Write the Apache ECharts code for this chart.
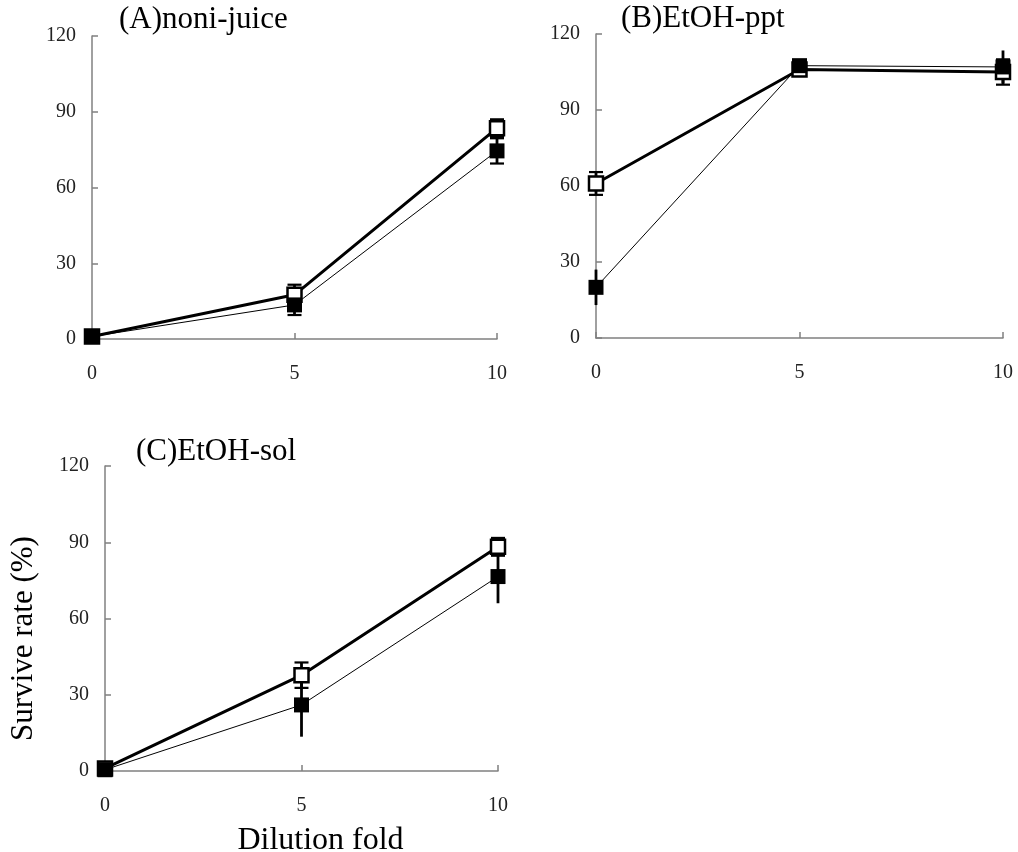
<!DOCTYPE html>
<html><head><meta charset="utf-8">
<script src="https://cdn.jsdelivr.net/npm/echarts@6/dist/echarts.min.js"></script>
<style>html,body{margin:0;padding:0;background:#fff}#c{width:1018px;height:852px}</style>
</head><body><div id="c"></div>
<script>
const dilution = [0, 5, 10];
const yTicks = [0, 30, 60, 90, 120];
const panelTitles = ['(A)noni-juice', '(B)EtOH-ppt', '(C)EtOH-sol'];
// open squares (thick line)
const aOpen = [1, 17.5, 83.5];
const aOpenErr = [0.5, 4, 3.5];
const bOpen = [61, 106, 105];
const bOpenErr = [4.5, 2, 5];
const cOpen = [1, 37.7, 88.2];
const cOpenErr = [0.5, 5, 3.5];
// filled squares (thin line)
const aFilled = [1, 13.5, 74.5];
const aFilledErr = [0.5, 4, 5];
const bFilled = [20, 107.5, 107];
const bFilledErr = [7, 2.5, 6.5];
const cFilled = [0.5, 26, 76.5];
const cFilledErr = [0.5, 12.5, 10.5];

const FONT = 'Liberation Serif';
const AX = '#808080';

const openSets = [[aOpen, aOpenErr], [bOpen, bOpenErr], [cOpen, cOpenErr]];
const filledSets = [[aFilled, aFilledErr, true], [bFilled, bFilledErr, false], [cFilled, cFilledErr, false]];

const grids = [
  {left: 92, top: 36, width: 405, height: 303},
  {left: 596, top: 34, width: 407, height: 304},
  {left: 105, top: 466, width: 393, height: 305}
].map(g=>Object.assign(g, {containLabel:false, outerBoundsMode:'none'}));

function pairs(vals){ return dilution.map((x,i)=>[x, vals[i]]); }
function errData(vals, errs){ return dilution.map((x,i)=>[x, vals[i]-errs[i], vals[i]+errs[i]]); }
function errSeries(idx, vals, errs, cap, w){
  return {
    type: 'custom', xAxisIndex: idx, yAxisIndex: idx, clip: false, z: 2,
    data: errData(vals, errs),
    renderItem: function(params, api){
      const lo = api.coord([api.value(0), api.value(1)]);
      const hi = api.coord([api.value(0), api.value(2)]);
      const ch = [{type:'line', shape:{x1:lo[0],y1:lo[1],x2:hi[0],y2:hi[1]}, style:{stroke:'#000', lineWidth:w}}];
      if (cap) {
        ch.push({type:'line', shape:{x1:lo[0]-7,y1:lo[1],x2:lo[0]+7,y2:lo[1]}, style:{stroke:'#000', lineWidth:2.2}});
        ch.push({type:'line', shape:{x1:hi[0]-7,y1:hi[1],x2:hi[0]+7,y2:hi[1]}, style:{stroke:'#000', lineWidth:2.2}});
      }
      return {type:'group', children: ch};
    }
  };
}

const xAxes = grids.map((g,i)=>({
  type:'value', gridIndex:i, min:0, max:10, interval:5,
  axisLine:{show:true, onZero:false, lineStyle:{color:AX, width:1.5}},
  axisTick:{show:true, inside:true, length:6, lineStyle:{color:AX, width:1.5}},
  splitLine:{show:false},
  axisLabel:{color:'#222', fontFamily:FONT, fontSize:20, margin:25},
  name: i===2 ? 'Dilution fold' : '', nameLocation:'middle', nameGap:54,
  nameTextStyle:{color:'#000', fontFamily:FONT, fontSize:32, padding:[0,0,0,38]}
}));
const yAxes = grids.map((g,i)=>({
  type:'value', gridIndex:i, min:yTicks[0], max:yTicks[yTicks.length-1], interval:30,
  axisLine:{show:true, onZero:false, lineStyle:{color:AX, width:1.5}},
  axisTick:{show:true, inside:true, length:6, lineStyle:{color:AX, width:1.5}},
  splitLine:{show:false},
  axisLabel:{color:'#222', fontFamily:FONT, fontSize:20, margin:16},
  name: i===2 ? 'Survive rate (%)' : '', nameLocation:'middle', nameGap:66, nameRotate:90,
  nameTextStyle:{color:'#000', fontFamily:FONT, fontSize:31, padding:[0,40,0,0]}
}));

const series = [];
for (let i=0;i<3;i++){
  const [ov, oe] = openSets[i];
  const [fv, fe, fcap] = filledSets[i];
  series.push(errSeries(i, ov, oe, true, 2.8));
  series.push(errSeries(i, fv, fe, fcap, 2.8));
  series.push({type:'line', xAxisIndex:i, yAxisIndex:i, data:pairs(ov), z:3,
    symbol:'rect', symbolSize:14, showSymbol:true,
    lineStyle:{color:'#000', width:3},
    itemStyle:{color:'#fff', borderColor:'#000', borderWidth:2.5}});
  series.push({type:'line', xAxisIndex:i, yAxisIndex:i, data:pairs(fv), z:4,
    symbol:'rect', symbolSize:15, showSymbol:true,
    lineStyle:{color:'#000', width:1},
    itemStyle:{color:'#000', borderColor:'#000', borderWidth:0}});
}

const titles = [
  {text: panelTitles[0], left: 119, top: 4},
  {text: panelTitles[1], left: 621, top: 3},
  {text: panelTitles[2], left: 136, top: 436}
].map(t=>Object.assign(t, {padding:0, textStyle:{fontFamily:FONT, fontSize:31, fontWeight:'normal', color:'#000'}}));

const chart = echarts.init(document.getElementById('c'), null, {renderer:'canvas'});
chart.setOption({
  animation:false, backgroundColor:'#fff',
  title: titles, grid: grids, xAxis: xAxes, yAxis: yAxes, series: series
});
</script></body></html>
